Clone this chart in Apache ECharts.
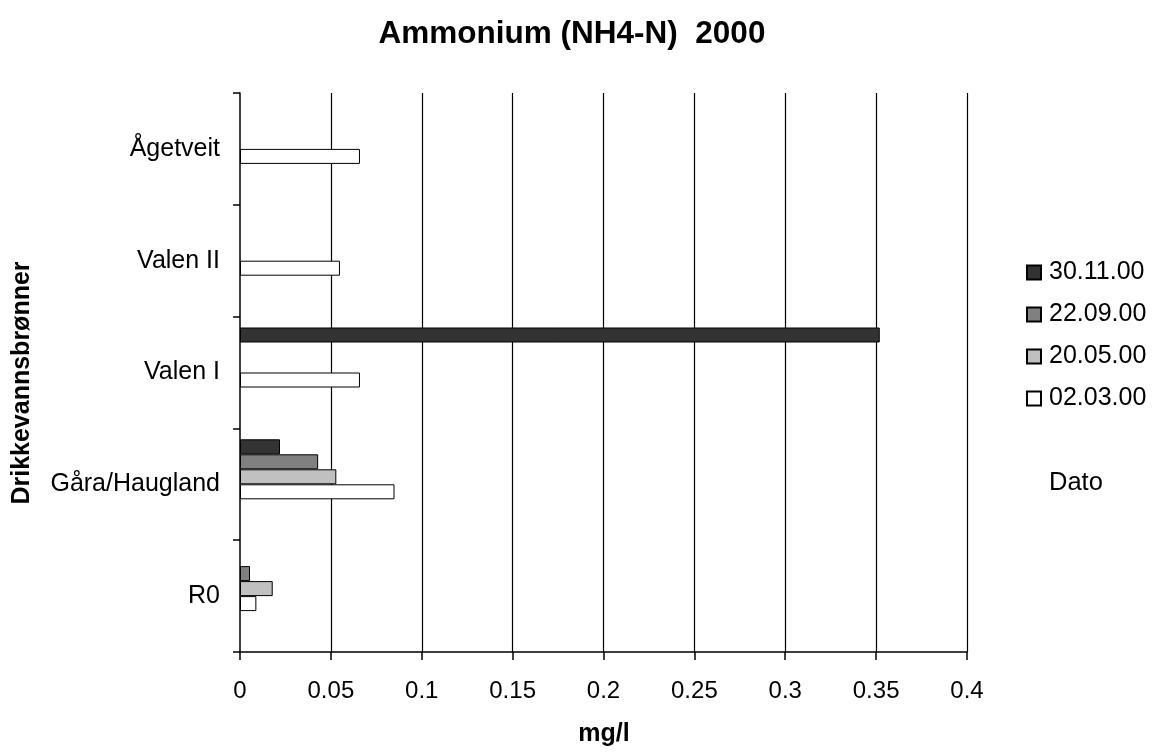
<!DOCTYPE html>
<html>
<head>
<meta charset="utf-8">
<script src="https://cdn.jsdelivr.net/npm/echarts@6/dist/echarts.min.js"></script>
<style>html,body{margin:0;padding:0;background:#fff;}#c{width:1152px;height:754px;}</style>
</head>
<body>
<div id="c"></div>
<script>
// Data
var categories = ['R0', 'Gåra/Haugland', 'Valen I', 'Valen II', 'Ågetveit'];
var seriesNames = ['30.11.00', '22.09.00', '20.05.00', '02.03.00'];
var s301100 = [null, 0.022, 0.352, null, null];
var s220900 = [0.0055, 0.043, null, null, null];
var s200500 = [0.018, 0.053, null, null, null];
var s020300 = [0.009, 0.085, 0.066, 0.055, 0.066];
var xTicks = [0, 0.05, 0.1, 0.15, 0.2, 0.25, 0.3, 0.35, 0.4];

var FONT = '"Liberation Sans", Arial, sans-serif';
var colors = ['#333333', '#808080', '#c0c0c0', '#ffffff'];
var values = [s301100, s220900, s200500, s020300];

var series = seriesNames.map(function (n, i) {
  return {
    name: n, type: 'bar', data: values[i], barWidth: 15, barGap: '0%',
    itemStyle: { color: colors[i], borderColor: '#000', borderWidth: 1 }
  };
});
// two empty slots (as in the original chart's layout)
series.push({ name: 'e1', type: 'bar', data: [null, null, null, null, null], barWidth: 15, barGap: '0%' });
series.push({ name: 'e2', type: 'bar', data: [null, null, null, null, null], barWidth: 15, barGap: '0%' });

var gridColors = xTicks.map(function (v, i) { return i === xTicks.length - 1 ? '#b0b0b0' : '#000000'; });

var chart = echarts.init(document.getElementById('c'), null, { renderer: 'canvas' });
chart.setOption({
  animation: false,
  backgroundColor: '#ffffff',
  title: [
    { text: 'Ammonium (NH4-N)  2000', left: 567, textAlign: 'center', top: 13,
      textStyle: { fontFamily: FONT, fontSize: 31.5, fontWeight: 'bold', color: '#000' } },
    { text: 'Dato', left: 1044, top: 465,
      textStyle: { fontFamily: FONT, fontSize: 25.5, fontWeight: 'normal', color: '#000' } }
  ],
  graphic: [
    { type: 'text', x: 604, y: 722,
      style: { text: 'mg/l', font: 'bold 25px "Liberation Sans", Arial, sans-serif', fill: '#000', align: 'center', verticalAlign: 'top' } },
    { type: 'text', x: 10, y: 383, rotation: Math.PI / 2,
      style: { text: 'Drikkevannsbrønner', font: 'bold 25px "Liberation Sans", Arial, sans-serif',
        fill: '#000', align: 'center', verticalAlign: 'top' } }
  ],
  legend: {
    orient: 'vertical', left: 1021, top: 255,
    data: seriesNames,
    itemWidth: 14, itemHeight: 14, itemGap: 17,
    icon: 'rect',
    textStyle: { fontFamily: FONT, fontSize: 25, color: '#000', lineHeight: 24, padding: [0, 0, 0, 3] }
  },
  grid: { left: 240, right: 185, top: 93, bottom: 102, containLabel: false },
  xAxis: {
    type: 'value', min: 0, max: 0.4, interval: 0.05,
    axisLine: { show: true, lineStyle: { color: '#000', width: 1.5 } },
    axisTick: { show: true, length: 8, lineStyle: { color: '#000', width: 1.5 } },
    axisLabel: { fontFamily: FONT, fontSize: 24, color: '#000', margin: 27,
      formatter: function (v) { return String(+v.toFixed(2)); } },
    splitLine: { show: true, showMinLine: false, showMaxLine: true, lineStyle: { color: gridColors, width: 1.2 } }
  },
  yAxis: {
    type: 'category', data: categories,
    axisLine: { show: true, lineStyle: { color: '#000', width: 1.5 } },
    axisTick: { show: true, length: 7, alignWithLabel: false, lineStyle: { color: '#000', width: 1.5 } },
    axisLabel: { fontFamily: FONT, fontSize: 25, color: '#000', margin: 20 },
    splitLine: { show: false }
  },
  series: series
});
</script>
</body>
</html>
